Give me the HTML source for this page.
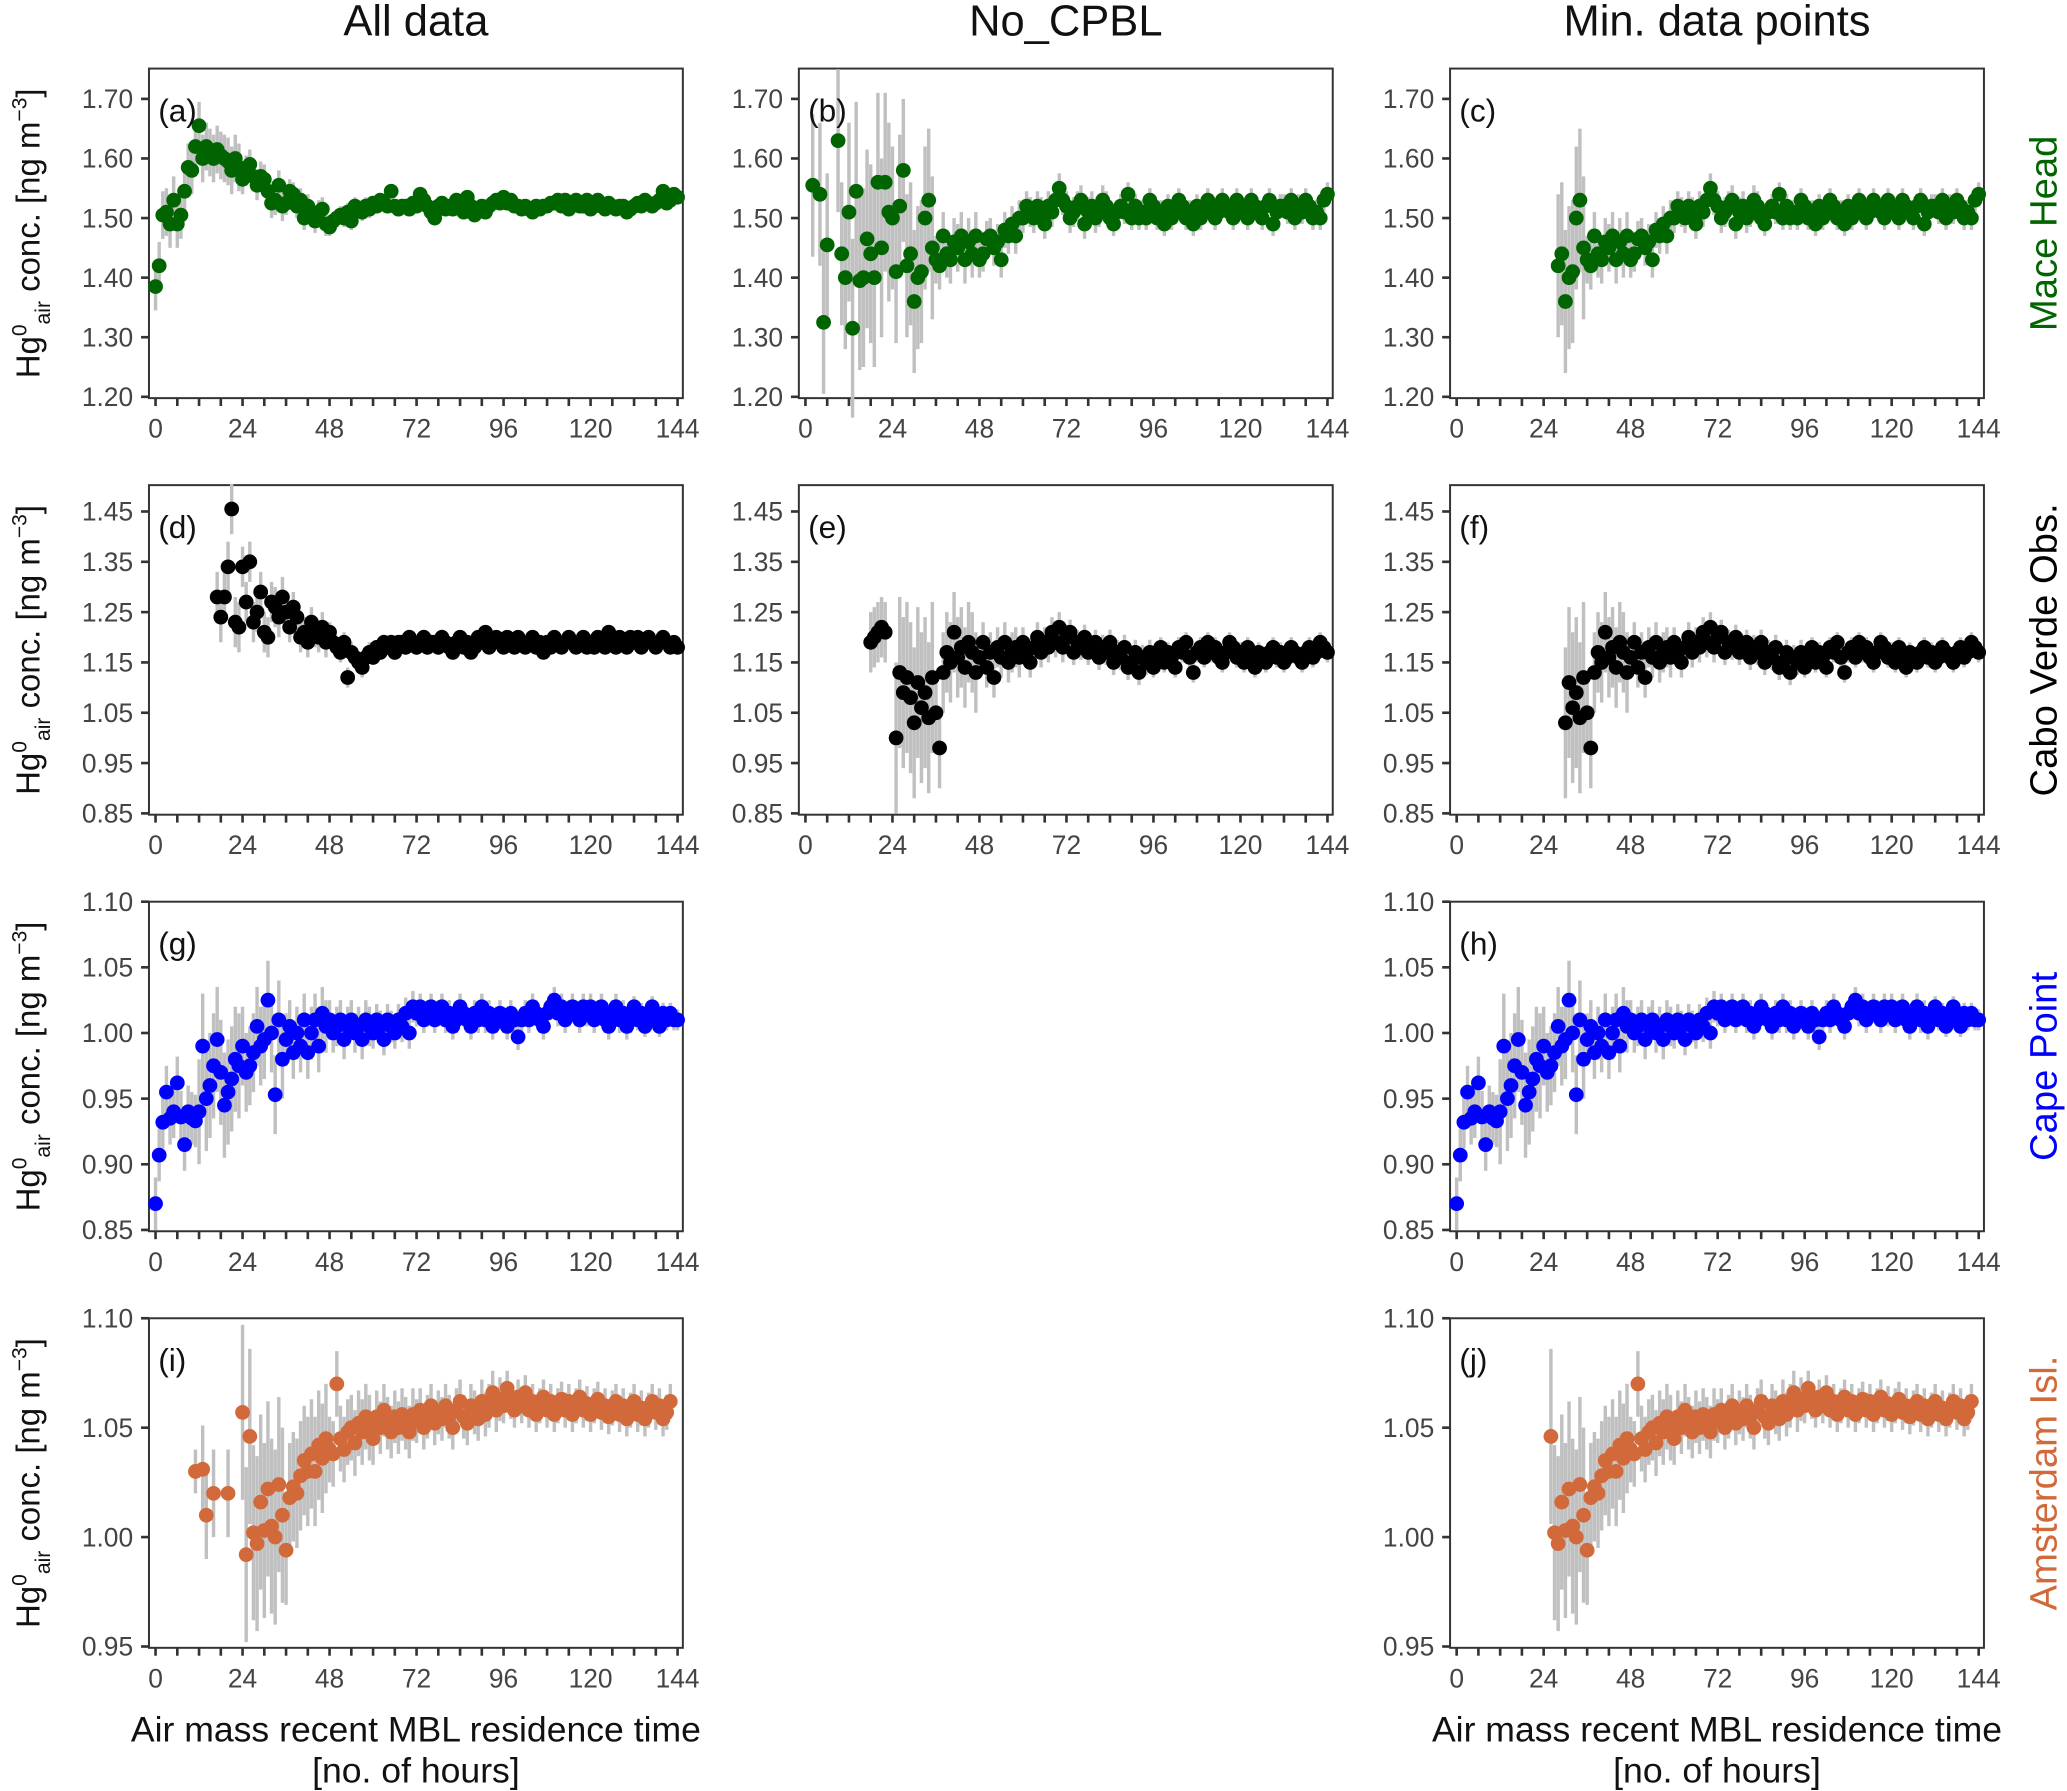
<!DOCTYPE html>
<html><head><meta charset="utf-8"><style>
html,body{margin:0;padding:0;background:#fff;}
svg{display:block;font-family:"Liberation Sans",Arial,sans-serif;}
</style></head><body>
<svg id="fig" width="2067" height="1791" viewBox="0 0 1568 1358.6" xmlns="http://www.w3.org/2000/svg"></svg>
<script>
// ---- data (hour index = start + position) ----
const startA = 0;
const valsA = [1.385,1.42,1.505,1.51,1.49,1.53,1.49,1.505,1.545,1.585,1.58,1.62,1.655,1.60,1.62,1.61,1.60,1.615,1.605,1.60,1.595,1.58,1.60,1.585,1.565,1.58,1.59,1.57,1.555,1.57,1.565,1.545,1.525,1.53,1.555,1.52,1.525,1.545,1.54,1.52,1.53,1.50,1.52,1.505,1.495,1.51,1.515,1.49,1.485,1.495,1.50,1.505,1.50,1.51,1.495,1.52,1.515,1.51,1.52,1.515,1.525,1.52,1.53,1.525,1.52,1.545,1.52,1.515,1.52,1.52,1.515,1.525,1.52,1.54,1.53,1.52,1.51,1.50,1.52,1.525,1.515,1.52,1.515,1.53,1.52,1.51,1.535,1.52,1.505,1.515,1.52,1.51,1.52,1.525,1.53,1.525,1.535,1.525,1.53,1.52,1.52,1.515,1.52,1.515,1.51,1.52,1.515,1.52,1.52,1.525,1.525,1.53,1.52,1.53,1.515,1.525,1.53,1.52,1.52,1.53,1.515,1.52,1.53,1.52,1.515,1.525,1.52,1.515,1.52,1.52,1.51,1.515,1.52,1.525,1.52,1.53,1.525,1.52,1.525,1.53,1.545,1.525,1.53,1.54,1.535];
const errA = [0.04,0.04,0.025,0.02,0.015,0.012,0.01,0.01,0.008,0.008,0.008,0.008,0.008];

const startB = 0;
const valsB = [null,null,1.555,null,1.54,1.325,1.455,null,null,1.63,1.44,1.40,1.51,1.315,1.545,1.395,1.40,1.465,1.44,1.40,1.56,1.45,1.56,1.51,1.50,1.41,1.52,1.58,1.42,1.44,1.36,1.40,1.41,1.50,1.53,1.45,1.43,1.42,1.47,1.44,1.43,1.46,1.45,1.47,1.43,1.46,1.44,1.47,1.43,1.44,1.465,1.47,1.45,1.46,1.43,1.48,1.47,1.49,1.47,1.50,1.50,1.52,1.51,1.50,1.52,1.51,1.49,1.52,1.51,1.53,1.55,1.53,1.52,1.50,1.51,1.52,1.53,1.49,1.51,1.52,1.50,1.51,1.53,1.52,1.50,1.49,1.51,1.52,1.51,1.54,1.50,1.52,1.50,1.51,1.50,1.53,1.52,1.50,1.51,1.49,1.52,1.50,1.51,1.53,1.52,1.50,1.51,1.49,1.52,1.50,1.51,1.53,1.52,1.50,1.51,1.53,1.52,1.51,1.50,1.53,1.52,1.51,1.50,1.53,1.52,1.51,1.50,1.52,1.53,1.49,1.51,1.52,1.52,1.51,1.53,1.50,1.52,1.51,1.53,1.52,1.50,1.51,1.50,1.53,1.54];
const errB = [0.12,0.15,0.12,0.04,0.03,0.025,0.025,0.02,0.02,0.02,0.02,0.02,0.02];
const minHourC = 28;

const startD = 17;
const valsD = [1.28,1.24,1.28,1.34,1.455,1.23,1.22,1.34,1.27,1.35,1.23,1.25,1.29,1.21,1.20,1.27,1.26,1.24,1.28,1.25,1.22,1.26,1.24,1.20,1.21,1.19,1.23,1.21,1.20,1.22,1.19,1.21,1.19,1.18,1.17,1.19,1.12,1.17,1.16,1.15,1.14,1.16,1.17,1.16,1.18,1.17,1.19,1.18,1.19,1.17,1.19,1.19,1.18,1.20,1.19,1.18,1.19,1.20,1.18,1.19,1.19,1.18,1.20,1.19,1.18,1.17,1.19,1.20,1.18,1.19,1.17,1.18,1.20,1.19,1.21,1.18,1.19,1.20,1.19,1.18,1.20,1.19,1.18,1.20,1.19,1.18,1.19,1.20,1.18,1.19,1.17,1.19,1.18,1.20,1.19,1.18,1.19,1.20,1.19,1.18,1.19,1.20,1.18,1.19,1.18,1.20,1.19,1.18,1.21,1.19,1.18,1.20,1.19,1.18,1.20,1.19,1.20,1.18,1.19,1.20,1.19,1.18,1.19,1.20,1.19,1.18,1.19,1.18];
const errD = [0,0.05,0.04,0.03,0.02,0.015,0.015,0.012,0.01,0.01,0.01,0.01,0.01];

const startE = 18;
const valsE = [1.19,1.20,1.21,1.22,1.21,null,null,1.00,1.13,1.09,1.12,1.08,1.03,1.11,1.06,1.09,1.04,1.12,1.05,0.98,1.13,1.17,1.15,1.21,1.16,1.18,1.14,1.19,1.17,1.13,1.16,1.19,1.14,1.17,1.12,1.18,1.16,1.19,1.15,1.17,1.18,1.16,1.19,1.17,1.15,1.18,1.20,1.17,1.19,1.18,1.21,1.19,1.22,1.18,1.20,1.21,1.17,1.19,1.18,1.20,1.17,1.18,1.19,1.16,1.18,1.17,1.19,1.15,1.17,1.16,1.18,1.14,1.15,1.17,1.13,1.16,1.15,1.17,1.14,1.16,1.18,1.15,1.17,1.16,1.14,1.18,1.17,1.19,1.16,1.13,1.17,1.18,1.16,1.19,1.17,1.18,1.16,1.15,1.17,1.19,1.18,1.16,1.17,1.15,1.18,1.16,1.14,1.17,1.16,1.15,1.17,1.18,1.16,1.17,1.15,1.16,1.18,1.17,1.16,1.15,1.17,1.18,1.16,1.17,1.19,1.18,1.17,1.18];
const errE = [0,0.06,0.15,0.08,0.04,0.03,0.025,0.025,0.02,0.02,0.02,0.02,0.02];
const minHourF = 30;

const startG = 0;
const valsG = [0.87,0.907,0.932,0.955,0.935,0.94,0.962,0.936,0.915,0.94,0.935,0.933,0.94,0.99,0.95,0.96,0.975,0.995,0.97,0.945,0.955,0.965,0.98,0.975,0.99,0.97,0.975,0.985,1.005,0.99,0.995,1.025,1.00,0.953,1.01,0.98,0.995,1.005,0.985,1.00,0.99,1.01,0.985,1.00,1.01,0.99,1.015,1.005,1.01,1.00,1.005,1.01,0.995,1.005,1.01,1.00,1.005,0.995,1.01,1.005,1.00,1.01,1.005,0.995,1.01,1.005,1.00,1.01,1.005,1.015,1.00,1.02,1.015,1.02,1.01,1.015,1.02,1.01,1.015,1.02,1.01,1.015,1.005,1.01,1.02,1.015,1.01,1.005,1.015,1.01,1.02,1.01,1.015,1.005,1.01,1.015,1.01,1.005,1.015,1.01,0.997,1.01,1.015,1.01,1.02,1.015,1.01,1.005,1.015,1.02,1.025,1.015,1.02,1.01,1.015,1.02,1.015,1.01,1.02,1.015,1.02,1.01,1.015,1.02,1.01,1.005,1.015,1.02,1.01,1.015,1.005,1.01,1.02,1.01,1.015,1.005,1.01,1.02,1.01,1.005,1.015,1.01,1.015,1.01,1.01];
const errG = [0.02,0.04,0.03,0.02,0.015,0.012,0.01,0.01,0.01,0.01,0.01,0.008,0.008];

const startI = 11;
const valsI = [1.030,null,1.031,1.010,null,1.020,null,null,null,1.020,null,null,null,1.057,0.992,1.046,1.002,0.997,1.016,1.003,1.022,1.005,1.000,1.024,1.010,0.994,1.018,1.023,1.020,1.028,1.035,1.030,1.038,1.030,1.042,1.036,1.045,1.040,1.038,1.070,1.045,1.040,1.048,1.050,1.043,1.052,1.048,1.055,1.050,1.045,1.055,1.050,1.058,1.052,1.048,1.055,1.050,1.056,1.052,1.048,1.056,1.053,1.058,1.050,1.055,1.060,1.052,1.057,1.054,1.060,1.055,1.050,1.058,1.062,1.055,1.052,1.060,1.057,1.054,1.062,1.056,1.060,1.066,1.058,1.063,1.060,1.068,1.062,1.058,1.064,1.060,1.066,1.058,1.062,1.056,1.060,1.064,1.058,1.062,1.056,1.060,1.063,1.058,1.062,1.056,1.060,1.064,1.058,1.061,1.056,1.060,1.063,1.057,1.060,1.055,1.059,1.062,1.056,1.060,1.054,1.058,1.062,1.056,1.059,1.054,1.058,1.062,1.057,1.060,1.054,1.057,1.062];
const errI = [0.01,0.02,0.04,0.025,0.015,0.012,0.01,0.01,0.008,0.008,0.008,0.008,0.008];
const minHourJ = 26;

const xTicks = [0,24,48,72,96,120,144];
const colTitles = ["All data","No_CPBL","Min. data points"];
const rowNames = ["Mace Head","Cabo Verde Obs.","Cape Point","Amsterdam Isl."];
const rowColors = ["#006400","#000000","#0000ff","#d2693a"];
const yTicksR = [
  [1.20,1.30,1.40,1.50,1.60,1.70],
  [0.85,0.95,1.05,1.15,1.25,1.35,1.45],
  [0.85,0.90,0.95,1.00,1.05,1.10],
  [0.95,1.00,1.05,1.10]
];
const yLabelFmt = 2;

// ---- layout ----
const NS="http://www.w3.org/2000/svg";
const svg=document.getElementById('fig');
const colX=[113,606,1100], pw=405;
const rowY=[52,368,684,1000], ph=250;
const ySpan=[[1.20,301,1.70,75],[0.85,617,1.45,388],[0.85,933,1.10,684],[0.95,1249,1.10,1000]];
function el(tag,attrs,parent){const e=document.createElementNS(NS,tag);for(const k in attrs)e.setAttribute(k,attrs[k]);(parent||svg).appendChild(e);return e;}
function xScale(c,h){return colX[c]+5+h*(396/144);}
function yScale(r,v){const s=ySpan[r];return s[1]+(v-s[0])*(s[3]-s[1])/(s[2]-s[0]);}

function panel(c,r,letter,start,vals,err,minHour,name){
  const g=el('g',{});
  
  
  const frame=el('rect',{x:colX[c],y:rowY[r],width:pw,height:ph,fill:'none',stroke:'#333','stroke-width':1.5},g);
  
  
  for(let h=0;h<=144;h+=6){
    const t=el('line',{x1:xScale(c,h),x2:xScale(c,h),y1:rowY[r]+ph,y2:rowY[r]+ph+6,stroke:'#333','stroke-width':2},g);
    
    
  }
  xTicks.forEach(h=>{
    const t=el('text',{x:xScale(c,h),y:rowY[r]+ph+30,'text-anchor':'middle','font-size':20,fill:'#444'},g);
    t.textContent=h;
    
    
  });
  yTicksR[r].forEach(v=>{
    const y=yScale(r,v);
    const t=el('line',{x1:colX[c]-6,x2:colX[c],y1:y,y2:y,stroke:'#333','stroke-width':2},g);
    
    
    const l=el('text',{x:colX[c]-12,y:y+7,'text-anchor':'end','font-size':20,fill:'#444'},g);
    l.textContent=v.toFixed(yLabelFmt);
    
    
  });
  vals.forEach((v,i)=>{
    const h=start+i; if(v===null||h<minHour||h>144) return;
    const e=err[Math.floor(h/12)]; if(!e) return;
    const b=el('line',{x1:xScale(c,h),x2:xScale(c,h),y1:yScale(r,v-e),y2:yScale(r,v+e),stroke:'#c0c0c0','stroke-width':2.6},g);
    
    
  });
  vals.forEach((v,i)=>{
    const h=start+i; if(v===null||h<minHour||h>144) return;
    const p=el('circle',{cx:xScale(c,h),cy:yScale(r,v),r:5.6,fill:rowColors[r]},g);
    
    
  });
  const lt=el('text',{x:colX[c]+7,y:rowY[r]+40,'font-size':24,fill:'#111'},g);
  lt.textContent='('+letter+')';
  
  
}
panel(0,0,'a',startA,valsA,errA,0,'a');
panel(1,0,'b',startB,valsB,errB,0,'b');
panel(2,0,'c',startB,valsB,errB,minHourC,'c');
panel(0,1,'d',startD,valsD,errD,0,'d');
panel(1,1,'e',startE,valsE,errE,0,'e');
panel(2,1,'f',startE,valsE,errE,minHourF,'f');
panel(0,2,'g',startG,valsG,errG,0,'g');
panel(2,2,'h',startG,valsG,errG,0,'h');
panel(0,3,'i',startI,valsI,errI,0,'i');
panel(2,3,'j',startI,valsI,errI,minHourJ,'j');

colTitles.forEach((t,c)=>{
  const e=el('text',{x:colX[c]+pw/2,y:27,'text-anchor':'middle','font-size':33,fill:'#111'});
  e.textContent=t;
  
  
});
rowNames.forEach((t,r)=>{
  const cy=rowY[r]+ph/2, x=1560;
  const e=el('text',{x:x,y:cy,'text-anchor':'middle','font-size':29,fill:rowColors[r],transform:`rotate(-90 ${x} ${cy})`});
  e.textContent=t;
  
  
  const yl=el('text',{x:30,y:cy,'text-anchor':'middle','font-size':25,fill:'#111',transform:`rotate(-90 30 ${cy})`});
  
  
  yl.innerHTML='Hg<tspan dy="-10" font-size="16">0</tspan><tspan dy="18" font-size="16">air</tspan><tspan dy="-8"> conc. [ng m</tspan><tspan dy="-10" font-size="16">−3</tspan><tspan dy="10">]</tspan>';
});
[0,2].forEach(c=>{
  const cx=colX[c]+pw/2;
  const a=el('text',{x:cx,y:1321,'text-anchor':'middle','font-size':27,fill:'#111'});
  a.textContent='Air mass recent MBL residence time';
  
  
  const b=el('text',{x:cx,y:1352,'text-anchor':'middle','font-size':27,fill:'#111'});
  b.textContent='[no. of hours]';
  
  
});
</script>
</body></html>
